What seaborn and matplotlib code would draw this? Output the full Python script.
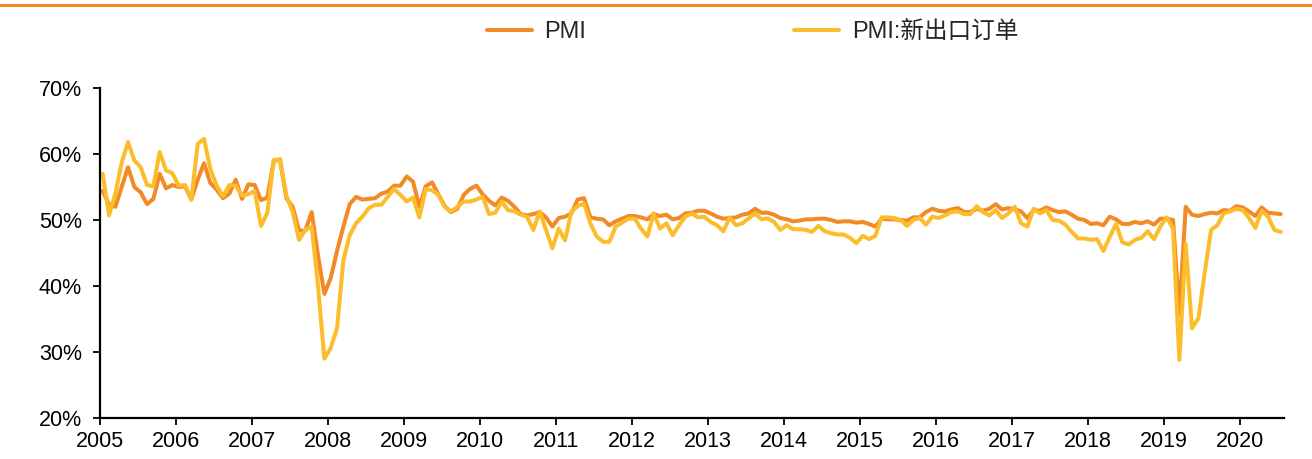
import numpy as np
import pandas as pd
import matplotlib
matplotlib.use("Agg")
import matplotlib.pyplot as plt
from matplotlib.lines import Line2D
import seaborn as sns

# monthly values, first point sits just right of the "2005" tick
pmi = [54.4, 52.4, 52.0, 55.0, 58.0, 55.0, 54.2, 52.4, 53.2, 57.0, 54.8, 55.3,
       55.0, 55.1, 53.1, 56.1, 58.6, 55.6, 54.6, 53.3, 54.0, 56.1, 53.2, 55.4,
       55.3, 53.0, 53.4, 58.9, 59.2, 53.3, 52.0, 48.4, 48.4, 51.2, 44.6, 38.8,
       41.2, 45.3, 49.0, 52.4, 53.5, 53.1, 53.2, 53.3, 54.0, 54.3, 55.2, 55.2,
       56.6, 55.8, 52.0, 55.1, 55.7, 53.9, 52.1, 51.2, 51.7, 53.8, 54.7, 55.2,
       53.9, 52.9, 52.2, 53.4, 52.9, 52.0, 50.9, 50.7, 50.9, 51.2, 50.4, 49.0,
       50.3, 50.5, 51.0, 53.1, 53.3, 50.4, 50.2, 50.1, 49.2, 49.8, 50.2, 50.6,
       50.6, 50.4, 50.1, 50.9, 50.6, 50.8, 50.1, 50.3, 51.0, 51.1, 51.4, 51.4,
       51.0, 50.5, 50.2, 50.3, 50.4, 50.8, 51.0, 51.7, 51.1, 51.1, 50.8, 50.3,
       50.1, 49.8, 49.9, 50.1, 50.1, 50.2, 50.2, 50.0, 49.7, 49.8, 49.8, 49.6,
       49.7, 49.4, 49.0, 50.2, 50.1, 50.1, 50.0, 49.9, 50.4, 50.4, 51.2, 51.7,
       51.4, 51.3, 51.6, 51.8, 51.2, 51.2, 51.7, 51.4, 51.7, 52.4, 51.6, 51.8,
       51.6, 51.3, 50.3, 51.5, 51.4, 51.9, 51.5, 51.2, 51.3, 50.8, 50.2, 50.0,
       49.4, 49.5, 49.2, 50.5, 50.1, 49.4, 49.4, 49.7, 49.5, 49.8, 49.3, 50.2,
       50.2, 50.0, 35.7, 52.0, 50.8, 50.6, 50.9, 51.1, 51.0, 51.5, 51.4, 52.1,
       51.9, 51.3, 50.6, 51.9, 51.1, 51.0, 50.9]

export_orders = [57.0, 50.7, 54.0, 58.7, 61.8, 59.0, 58.0, 55.3, 55.1, 60.3, 57.5, 57.1,
                 55.2, 55.3, 53.1, 61.5, 62.3, 57.7, 55.2, 53.6, 55.3, 55.2, 53.7, 53.9,
                 54.4, 49.1, 51.1, 59.1, 59.1, 53.7, 51.2, 47.0, 48.5, 49.0, 40.0, 29.0,
                 30.6, 33.6, 43.9, 47.7, 49.5, 50.5, 51.8, 52.3, 52.3, 53.5, 54.7, 53.8,
                 52.8, 53.4, 50.4, 54.7, 54.5, 53.8, 52.0, 51.3, 52.0, 52.8, 52.8, 53.1,
                 53.5, 50.9, 51.1, 52.8, 51.5, 51.3, 50.8, 50.5, 48.5, 51.3, 48.5, 45.7,
                 48.7, 46.9, 51.3, 52.1, 52.5, 49.5, 47.5, 46.7, 46.7, 49.0, 49.6, 50.2,
                 50.2, 48.7, 47.5, 51.0, 48.7, 49.5, 47.7, 49.2, 50.5, 51.0, 50.4, 50.5,
                 49.7, 49.2, 48.3, 50.4, 49.2, 49.5, 50.25, 51.0, 50.1, 50.25, 49.7, 48.5,
                 49.2, 48.6, 48.6, 48.5, 48.2, 49.1, 48.3, 48.0, 47.8, 47.8, 47.3, 46.5,
                 47.6, 47.1, 47.6, 50.4, 50.4, 50.3, 50.0, 49.1, 50.0, 50.3, 49.3, 50.5,
                 50.3, 50.7, 51.2, 51.3, 50.9, 50.9, 52.1, 51.2, 50.7, 51.5, 50.3, 51.0,
                 52.0, 49.5, 49.0, 51.7, 51.0, 51.5, 50.0, 49.9, 49.3, 48.2, 47.2, 47.2,
                 47.0, 47.1, 45.3, 47.4, 49.4, 46.6, 46.3, 47.0, 47.3, 48.3, 47.1, 49.0,
                 50.4, 48.7, 28.8, 46.4, 33.6, 35.1, 42.0, 48.5, 49.2, 51.0, 51.3, 51.7,
                 51.5, 50.3, 48.8, 51.4, 50.5, 48.5, 48.2]

year_labels = [str(y) for y in range(2005, 2021)]
y_ticks = [20, 30, 40, 50, 60, 70]
series_names = ["PMI", "PMI:新出口订单"]
colors = {"PMI": "#F28A26", "PMI:新出口订单": "#FCBD2C"}

sns.set_style("ticks")
plt.rcParams["font.family"] = ["Liberation Sans", "Noto Sans CJK SC"]

month = np.arange(len(pmi))
df = pd.concat([
    pd.DataFrame({"month": month, "value": pmi, "series": series_names[0]}),
    pd.DataFrame({"month": month, "value": export_orders, "series": series_names[1]}),
])

fig = plt.figure(figsize=(13.12, 4.59), dpi=100)
ax = fig.add_axes([0.0762, 0.0893, 0.9025, 0.719])

sns.lineplot(data=df, x="month", y="value", hue="series", hue_order=series_names,
             palette=colors, linewidth=2.9, ax=ax)

handles, labels = ax.get_legend_handles_labels()
ax.get_legend().remove()

# axis: first tick a little left of the first point
x0 = -0.43
ax.set_xlim(x0, x0 + 186.96)
ax.set_ylim(20, 70)
ax.set_xticks([x0 + 12 * k for k in range(len(year_labels))])
ax.set_xticklabels(year_labels)
ax.set_yticks(y_ticks)
ax.set_yticklabels([f"{v}%" for v in y_ticks])
ax.set_xlabel("")
ax.set_ylabel("")
ax.tick_params(axis="both", labelsize=15.5, length=5, width=1.3, color="black",
               labelcolor="black", direction="out")
ax.tick_params(axis="x", pad=4)
ax.tick_params(axis="y", pad=8)

sns.despine(ax=ax)
for side in ["left", "bottom"]:
    ax.spines[side].set_linewidth(1.6)
    ax.spines[side].set_color("black")

fig.legend(handles, labels, loc="center", bbox_to_anchor=(0.5736, 0.93), ncol=2,
           frameon=False, fontsize=17, handlelength=1.9, handletextpad=0.55,
           columnspacing=8.8)

fig.add_artist(Line2D([0, 1], [0.989, 0.989], color="#F08A24", lw=2.2,
                      transform=fig.transFigure))

fig.savefig("out.png", dpi=100)
